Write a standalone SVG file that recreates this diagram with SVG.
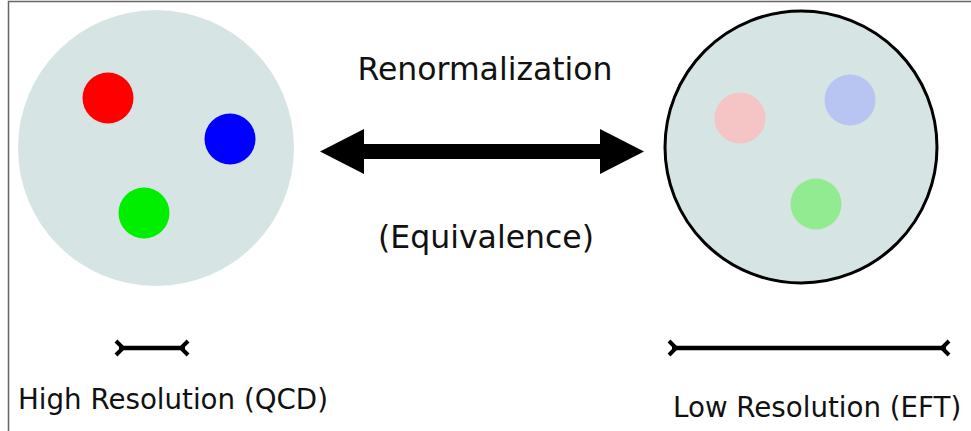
<svg xmlns="http://www.w3.org/2000/svg" width="971" height="431" viewBox="0 0 971 431">
<style>
  .lbl { font-family: "DejaVu Sans", "Liberation Sans", sans-serif; font-size: 27.7px; fill: #111; }
  .big { font-size: 31.5px; }
  .bar { stroke: #000; stroke-width: 4.5; fill: none; stroke-linecap: butt; }
  .cap { stroke: #000; stroke-width: 4; fill: none; }
  .blob { fill: #d6e4e3; }
</style>
<rect width="971" height="431" fill="#fff"/>
<path d="M8.5,431 V1.5 H971" fill="none" stroke="#666" stroke-width="1.5"/>
<g id="qcd">
  <circle class="blob" cx="156" cy="148" r="138"/>
  <circle cx="108" cy="98" r="25.5" fill="#ff0000"/>
  <circle cx="230" cy="139" r="25.5" fill="#0000ff"/>
  <circle cx="144" cy="213" r="25.5" fill="#00ee00"/>
</g>
<g id="eft">
  <circle class="blob" cx="801" cy="147" r="136" stroke="#000" stroke-width="3"/>
  <circle cx="740" cy="118" r="25.5" fill="#f5c4c4"/>
  <circle cx="850" cy="100" r="25.5" fill="#b8c4f2"/>
  <circle cx="816" cy="204" r="25.5" fill="#93eb91"/>
</g>
<g id="connectors">
  <polygon points="320,151.5 364,129 364,144 600,144 600,129 644,151.5 600,174 600,159 364,159 364,174" fill="#000"/>
</g>
<g id="scale-high">
  <line class="bar" x1="119" y1="348" x2="185" y2="348"/>
  <polyline class="cap" points="116,341 123,348 116,355"/>
  <polyline class="cap" points="188,341 181,348 188,355"/>
</g>
<g id="scale-low">
  <line class="bar" x1="672" y1="348" x2="946" y2="348"/>
  <polyline class="cap" points="669,341 676,348 669,355"/>
  <polyline class="cap" points="949,341 942,348 949,355"/>
</g>
<text class="lbl big" x="485" y="80" text-anchor="middle">Renormalization</text>
<text class="lbl big" x="486" y="248" text-anchor="middle">(Equivalence)</text>
<text class="lbl" x="18" y="409">High Resolution (QCD)</text>
<text class="lbl" x="673" y="417">Low Resolution (EFT)</text>
</svg>
